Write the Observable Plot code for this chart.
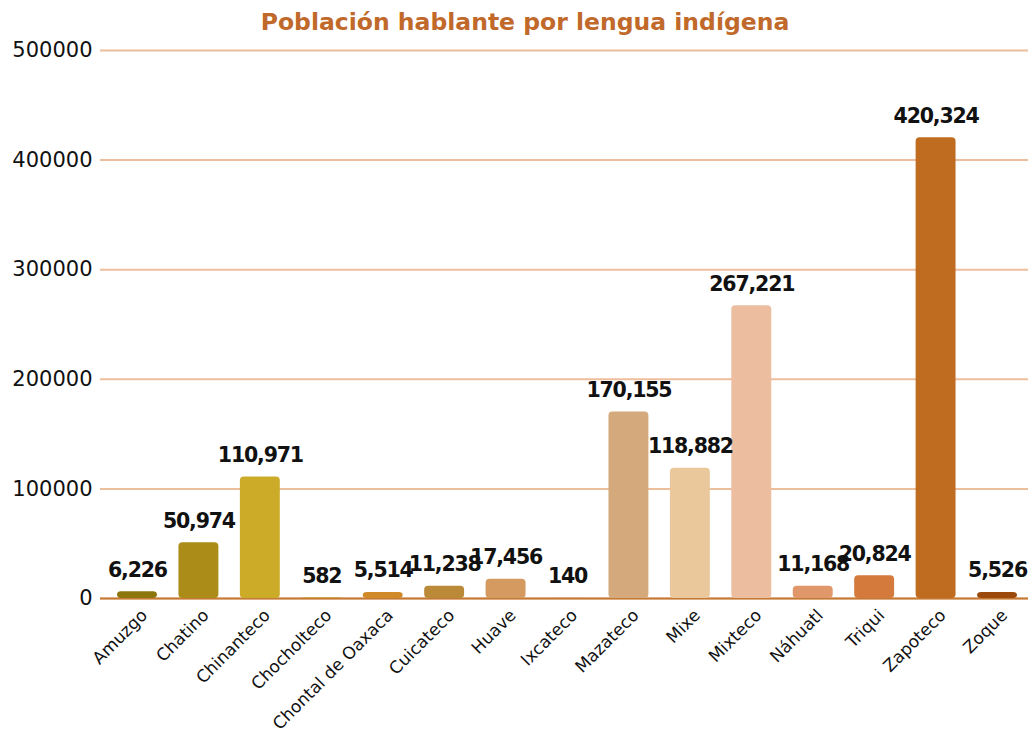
<!DOCTYPE html>
<html><head><meta charset="utf-8">
<script src="https://cdn.jsdelivr.net/npm/d3@7"></script>
<script src="https://cdn.jsdelivr.net/npm/@observablehq/plot@0.6"></script>
<style>
body{margin:0;background:#fff;font-family:"DejaVu Sans",sans-serif}
#title{height:44px;line-height:44px;text-align:center;font-weight:bold;font-size:23.5px;color:#C0692A;padding-left:22px;box-sizing:border-box;width:1028px}
#chart svg g[aria-label="text"] text{letter-spacing:-1.2px}
</style></head><body>
<div id="title">Población hablante por lengua indígena</div>
<div id="chart"></div>
<script>
const lenguas = ["Amuzgo","Chatino","Chinanteco","Chocholteco","Chontal de Oaxaca","Cuicateco","Huave","Ixcateco","Mazateco","Mixe","Mixteco","Náhuatl","Triqui","Zapoteco","Zoque"];
const hablantes = [6226,50974,110971,582,5514,11238,17456,140,170155,118882,267221,11168,20824,420324,5526];
const colores = ["#8E760E","#AB8C19","#CBAB27","#C9A24A","#D08A28","#BB8A38","#D49A60","#D4A070","#D4AA7D","#EAC89C","#ECBD9E","#E0976A","#D47A3C","#C06C20","#9C4A0C"];
const yTicks = [0,100000,200000,300000,400000,500000];

const data = lenguas.map((l,i)=>({lengua:l, valor:hablantes[i]}));
const fmt = d3.format(",");

const chart = Plot.plot({
  width:1028, height:696,
  marginLeft:100, marginRight:0, marginTop:6, marginBottom:142,
  style:{fontFamily:"DejaVu Sans, sans-serif", background:"#fff", overflow:"visible"},
  x:{domain:lenguas, paddingInner:0.35, paddingOuter:0.277, range:[100,1034], round:false, label:null},
  y:{domain:[0,500000], label:null},
  color:{domain:lenguas, range:colores},
  marks:[
    Plot.gridY(yTicks,{stroke:"#EDBE9C", strokeOpacity:1, strokeWidth:2}),
    Plot.axisY(yTicks,{tickSize:0, tickPadding:8, tickFormat:d=>String(d), fontSize:21, color:"#111", label:null}),
    Plot.axisX({tickSize:0, tickRotate:-45, tickPadding:14, dx:7, fontSize:17, color:"#111", label:null}),
    Plot.ruleY([0],{stroke:"#C47A34", strokeWidth:2}),
    Plot.barY(data,{x:"lengua", y:"valor", fill:"lengua", rx:4}),
    Plot.text(data,{x:"lengua", y:"valor", text:d=>fmt(d.valor), dy:-15, lineAnchor:"bottom", fontSize:20.5, fontWeight:"bold", fill:"#111"})
  ]
});
document.getElementById("chart").appendChild(chart);
</script>
</body></html>
